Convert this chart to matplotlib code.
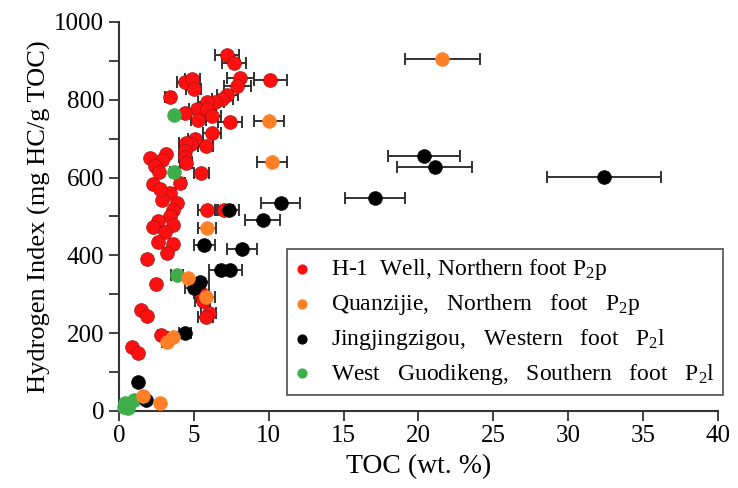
import numpy as np
import matplotlib
matplotlib.use("Agg")
from matplotlib import pyplot as plt

matplotlib.rcParams['font.family'] = ['Liberation Serif', 'DejaVu Serif']
matplotlib.rcParams['mathtext.fontset'] = 'custom'
matplotlib.rcParams['mathtext.rm'] = 'Liberation Serif'
matplotlib.rcParams['mathtext.it'] = 'Liberation Serif:italic'

# H-1 Well, Northern foot P2p: TOC, HI, TOC error
h1_toc = [7.2, 7.7, 10.1, 8.1, 7.9, 4.4, 4.9, 5.0, 3.4, 7.25, 6.9, 6.4, 5.9, 5.2, 4.4, 5.9, 5.3, 6.2,
          7.4, 6.2, 5.1, 4.8, 5.8, 4.5, 4.4, 4.4, 4.5, 5.5,
          2.1, 3.15, 2.9, 2.4, 2.7, 2.3, 3.4, 2.9, 3.9, 4.1, 2.75, 3.6, 3.4, 2.6, 2.3, 3.6, 3.1, 2.6,
          3.6, 3.2, 1.9, 2.5, 1.5, 1.9, 0.9, 1.3, 2.8,
          5.9, 7.0, 5.5, 5.6, 6.0, 5.8]
h1_hi = [914, 895, 850, 855, 835, 846, 853, 827, 808, 813, 801, 793, 793, 776, 767, 776, 748, 758,
         743, 714, 698, 686, 681, 688, 667, 654, 637, 611,
         649, 661, 645, 630, 614, 584, 561, 542, 535, 585, 570, 517, 501, 487, 472, 478, 461, 433,
         429, 407, 390, 326, 260, 244, 165, 150, 196,
         517, 517, 302, 283, 251, 241]
h1_err = [0.8, 0.8, 1.1, 0.9, 0.9, 0.5, 0.5, 0.5, 0.3, 0.7, 0.7, 0.6, 0.6, 0.5, 0.0, 0.6, 0.5, 0.6,
          0.8, 0.6, 0.5, 0.5, 0.5, 0.5, 0.4, 0.4, 0.4, 0.5,
          0, 0, 0, 0, 0, 0, 0, 0, 0.2, 0.3, 0, 0.2, 0, 0, 0, 0, 0, 0,
          0.2, 0.2, 0, 0, 0, 0, 0, 0, 0.2,
          0.6, 0.6, 0.5, 0.5, 0.5, 0.5]

# Quanzijie, Northern foot P2p
qz_toc = [21.6, 10.0, 10.2, 5.9, 4.6, 5.8, 3.2, 3.6, 1.6, 2.75]
qz_hi = [905, 746, 640, 470, 342, 292, 177, 191, 39, 21]
qz_err = [2.5, 1.0, 1.0, 0.6, 0, 0.6, 0.3, 0.3, 0, 0]

# Jingjingzigou, Western foot P2l
jj_toc = [32.4, 20.4, 21.1, 17.1, 10.8, 9.6, 7.35, 5.7, 8.2, 6.8, 7.4, 5.4, 5.0, 4.4, 1.3, 1.8]
jj_hi = [601, 655, 627, 547, 535, 490, 517, 426, 416, 362, 362, 332, 316, 201, 75, 28]
jj_err = [3.8, 2.4, 2.5, 2.0, 1.3, 1.15, 0.7, 0.7, 1.0, 0.8, 0.8, 0.6, 0.6, 0.4, 0, 0]

# West Guodikeng, Southern foot P2l
wg_toc = [3.7, 3.7, 3.9, 0.4, 0.6, 1.0, 0.35]
wg_hi = [760, 613, 350, 21, 7, 28, 11]
wg_err = [0, 0.3, 0.4, 0, 0, 0, 0]

series = [
    (h1_toc, h1_hi, h1_err, '#FF1010', r'H-1  Well, Northern foot P$_\mathregular{2}$p'),
    (wg_toc, wg_hi, wg_err, '#3DAE49', r'West   Guodikeng,   Southern   foot   P$_\mathregular{2}$l'),
    (jj_toc, jj_hi, jj_err, '#000000', r'Jingjingzigou,   Western   foot   P$_\mathregular{2}$l'),
    (qz_toc, qz_hi, qz_err, '#FF7F27', r'Quanzijie,   Northern   foot   P$_\mathregular{2}$p'),
]
legend_order = [0, 3, 2, 1]

fig = plt.figure(figsize=(7.38, 4.88), dpi=100)
ax = fig.add_axes([0.161, 0.158, 0.812, 0.797])

handles = []
for toc, hi, err, color, label in series:
    toc, hi, err = np.array(toc), np.array(hi), np.array(err)
    m = err > 0
    ax.errorbar(toc[m], hi[m], xerr=err[m], fmt='none', ecolor='#333333', elinewidth=1.4,
                capsize=4, capthick=1.4, zorder=2)
    ax.scatter(toc, hi, s=100, color=color, edgecolors='#8a1010' if color == '#FF1010' else color,
               linewidths=0.4, zorder=3, clip_on=False)
    handles.append(ax.scatter([], [], s=40, color=color, label=label))

ax.set_xlim(0, 40)
ax.set_ylim(0, 1000)
ax.set_xticks(np.arange(0, 41, 5))
ax.set_yticks(np.arange(0, 1001, 200))
ax.set_yticks(np.arange(0, 1001, 100), minor=True)
for s in ['top', 'right']:
    ax.spines[s].set_visible(False)
for s in ['left', 'bottom']:
    ax.spines[s].set_linewidth(1.5)
    ax.spines[s].set_color('#333333')
ax.tick_params(which='both', direction='out', length=7, width=1.3, color='#333333', labelsize=18)
ax.set_xlabel('TOC (wt. %)', fontsize=20, labelpad=5)
ax.set_ylabel('Hydrogen Index (mg HC/g TOC)', fontsize=19, labelpad=2)

leg = ax.legend([handles[i] for i in legend_order], [series[i][4] for i in legend_order],
                loc='lower right', bbox_to_anchor=(1.008, 0.041), borderaxespad=0, fontsize=17,
                frameon=True, fancybox=False, edgecolor='#333333', handletextpad=0.9,
                labelspacing=0.42, borderpad=0.35, handlelength=0.6)
leg.get_frame().set_linewidth(1.3)

fig.savefig('out.png', dpi=100)
